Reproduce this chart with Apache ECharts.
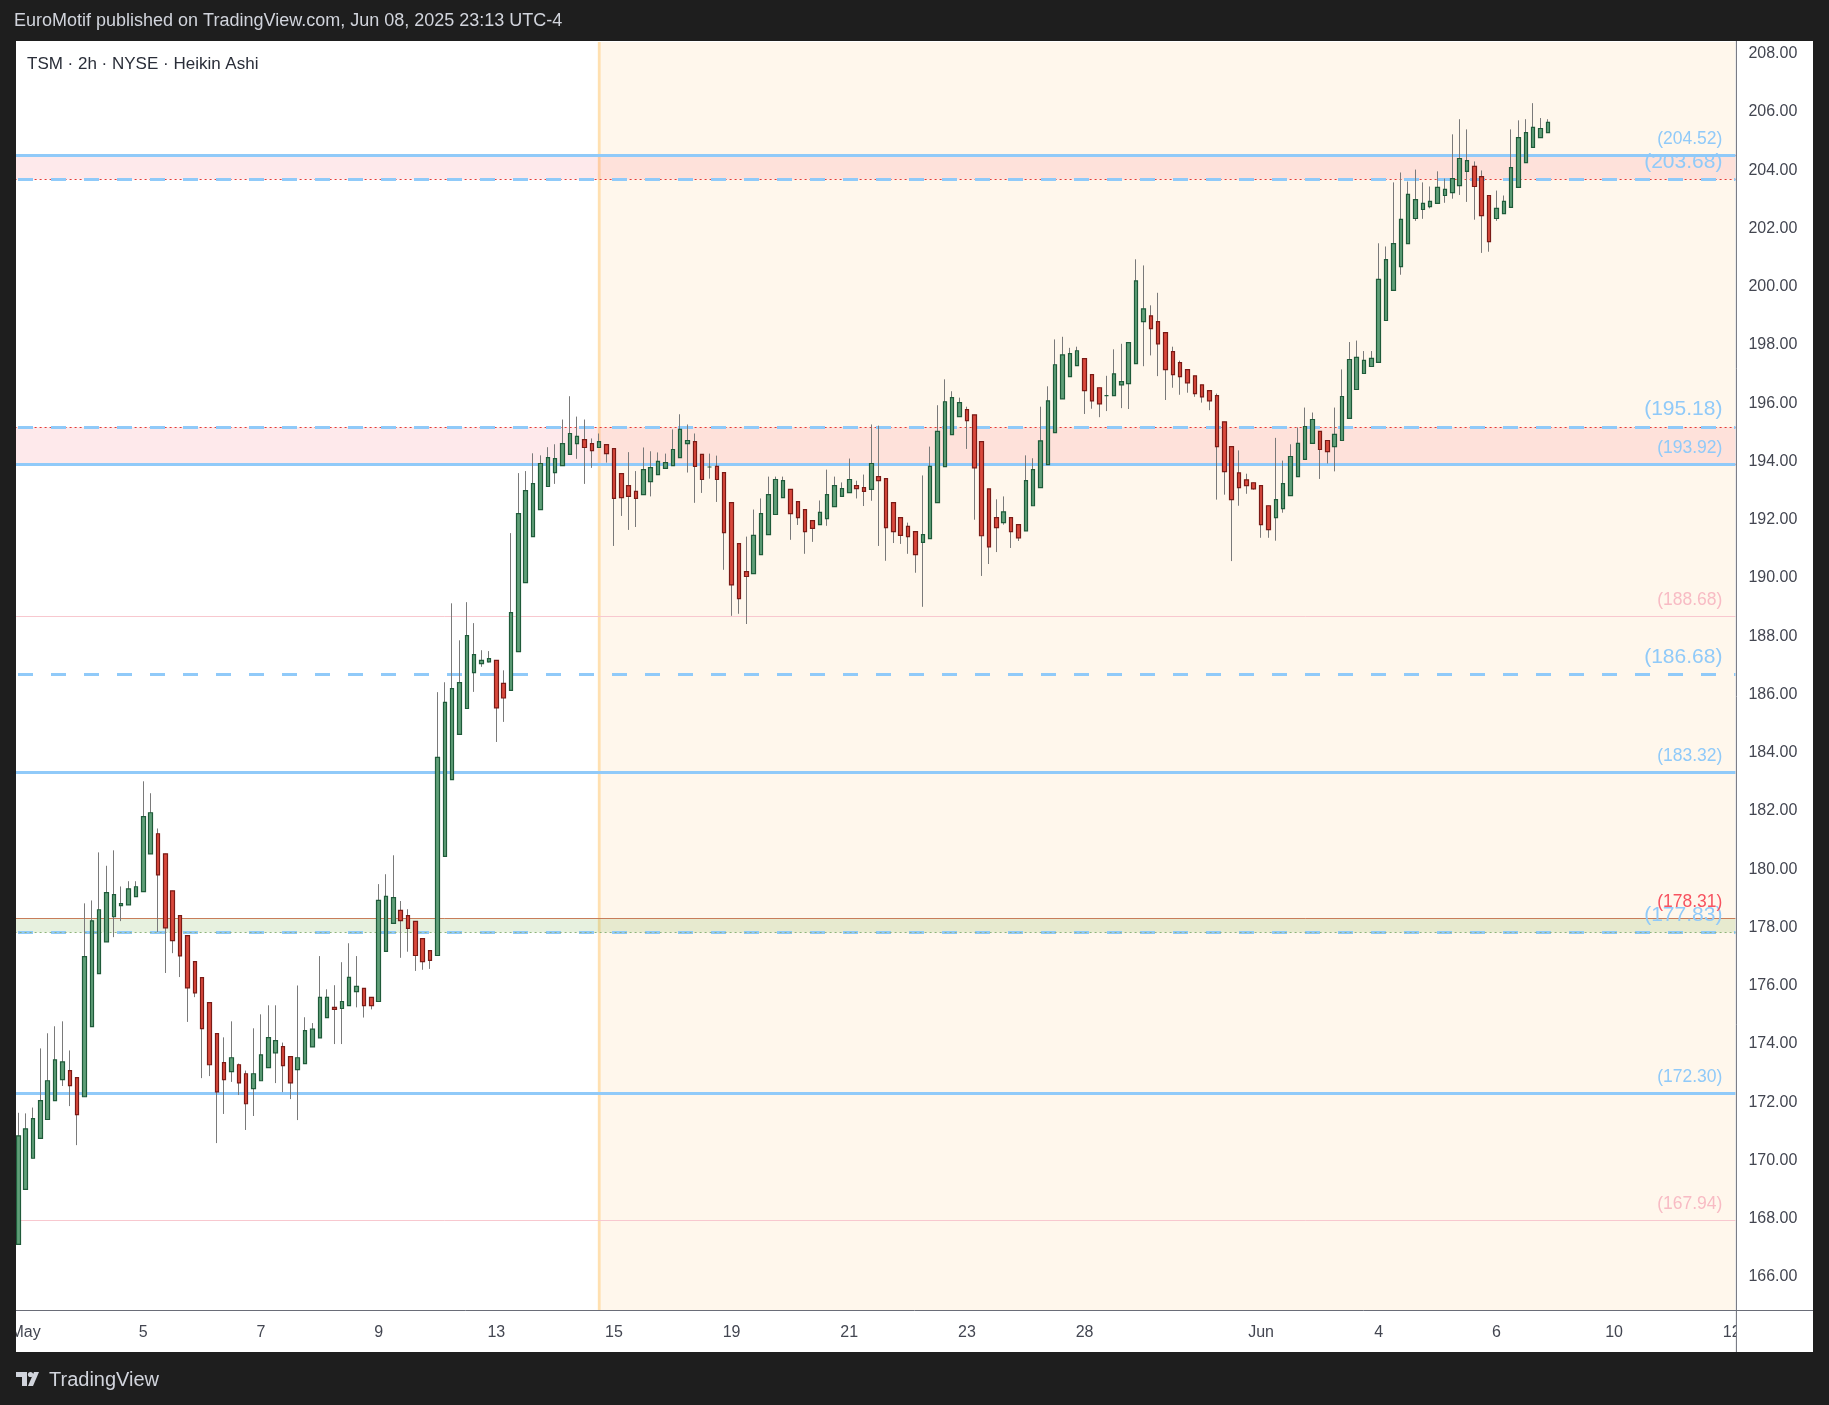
<!DOCTYPE html>
<html>
<head>
<meta charset="utf-8">
<script src="https://cdn.jsdelivr.net/npm/echarts@6/dist/echarts.min.js"></script>
<style>
html,body{margin:0;padding:0;background:#1e1e1e;}
#c{width:1829px;height:1405px;}
</style>
</head>
<body>
<div id="c"></div>
<script>
// ---------- DATA ----------
const hours = ['04:00','06:00','08:00','10:00','12:00','14:00','16:00','18:00'];
const tradingDays = ['2025-05-01','2025-05-02','2025-05-05','2025-05-06','2025-05-07','2025-05-08','2025-05-09',
  '2025-05-12','2025-05-13','2025-05-14','2025-05-15','2025-05-16','2025-05-19','2025-05-20','2025-05-21',
  '2025-05-22','2025-05-23','2025-05-27','2025-05-28','2025-05-29','2025-05-30','2025-06-02','2025-06-03',
  '2025-06-04','2025-06-05','2025-06-06','2025-06-09','2025-06-10','2025-06-11'];
const firstBar = '2025-04-30 18:00';
const lastBar = '2025-06-12 04:00';
const xTickLabels = {'2025-05-01':'May','2025-05-05':'5','2025-05-07':'7','2025-05-09':'9','2025-05-13':'13',
  '2025-05-15':'15','2025-05-19':'19','2025-05-21':'21','2025-05-23':'23','2025-05-28':'28','2025-06-02':'Jun',
  '2025-06-04':'4','2025-06-06':'6','2025-06-10':'10','2025-06-12':'12'};

// Heikin Ashi values (2h bars, extended hours)
const haOpen = [167.12,169.01,170.08,170.76,171.41,172.06,172.78,173.09,172.85,172.19,174.60,176.42,177.51,178.37,178.75,178.78,179.06,179.23,180.53,181.22,
180.53,179.26,178.41,177.72,176.83,176.28,175.42,174.36,173.36,173.05,173.29,172.98,172.47,172.74,173.19,173.70,173.91,173.57,173.12,173.33,
173.90,174.21,174.91,175.26,175.22,175.32,175.80,175.91,175.60,175.46,177.18,178.14,178.59,178.41,178.21,177.62,177.21,177.04,180.44,183.08,
184.63,185.52,186.75,187.06,187.12,187.17,186.38,186.14,187.47,189.84,191.42,192.35,193.14,193.62,193.86,194.24,194.61,194.75,194.61,194.48,
194.58,194.44,193.58,193.17,192.97,192.86,193.31,193.55,193.76,193.86,194.13,194.61,194.68,194.24,193.81,193.83,193.62,192.59,191.18,190.22,
190.15,190.80,191.49,192.18,192.76,193.04,192.62,192.35,191.97,191.83,192.04,192.45,192.80,192.93,193.17,193.10,193.04,193.48,193.41,192.59,
192.07,191.77,191.59,191.22,191.35,192.59,193.82,194.92,195.54,195.78,195.60,194.68,193.06,192.07,191.90,192.07,191.83,191.62,192.48,193.10,
193.89,194.99,196.15,196.91,197.29,197.53,196.98,196.53,196.26,196.26,196.63,196.67,197.36,198.80,199.00,198.80,198.42,197.77,197.39,197.15,
196.94,196.63,196.43,196.26,195.36,194.51,193.61,193.37,193.27,193.17,192.48,192.07,192.38,192.83,193.48,194.07,194.62,195.03,194.72,194.51,
194.72,195.48,196.47,197.02,197.26,197.40,198.84,199.87,200.69,201.48,202.34,202.65,202.75,202.86,203.13,203.23,203.47,203.96,204.13,203.78,
203.13,202.34,202.51,202.72,203.41,204.26,204.78,205.12,205.29];
const haClose = [170.85,171.09,171.44,172.06,172.74,173.46,173.39,172.57,171.58,177.00,178.23,178.61,179.20,179.13,178.82,179.33,179.40,181.81,181.94,179.81,
177.99,177.55,177.03,175.93,175.76,174.53,173.29,172.36,172.78,173.53,172.67,171.95,172.98,173.63,174.22,174.12,173.26,172.67,173.53,174.46,
174.51,175.60,175.60,175.19,175.46,176.29,175.98,175.32,175.32,178.93,179.07,179.03,178.24,177.97,177.04,176.83,176.87,183.84,185.73,186.20,
186.41,188.02,187.37,187.17,187.23,185.54,185.88,188.81,192.21,193.00,193.24,193.93,194.13,194.10,194.61,194.96,194.86,194.48,194.37,194.68,
194.27,192.73,192.76,192.80,192.73,193.72,193.79,194.00,193.96,194.41,195.10,194.72,193.83,193.38,193.81,193.38,191.56,189.76,189.29,190.05,
191.46,192.21,192.86,193.38,193.34,192.21,192.07,191.59,191.70,192.25,192.86,193.17,193.07,193.38,193.07,192.97,193.93,193.34,191.73,191.59,
191.46,191.42,190.80,191.49,193.83,195.03,196.05,196.19,196.02,195.40,193.78,191.45,191.07,191.73,192.27,191.59,191.38,193.34,193.72,194.71,
196.08,197.32,197.66,197.70,197.80,196.43,196.08,195.98,196.26,197.01,196.74,198.08,200.20,199.24,198.56,198.04,197.15,196.98,196.91,196.70,
196.33,196.22,196.08,194.51,193.65,192.69,193.10,193.17,193.06,191.83,191.66,192.69,193.24,194.17,194.62,195.20,195.44,194.41,194.34,194.93,
196.23,197.50,197.57,197.47,197.54,200.25,200.93,201.48,202.31,203.17,202.99,202.86,202.93,203.41,203.34,203.71,204.40,204.33,203.44,202.44,
201.55,202.69,202.93,204.09,205.12,205.29,205.47,205.43,205.64];
const haLow = [167.12,169.01,170.08,170.76,171.41,172.06,172.56,171.87,170.53,172.19,174.60,176.42,177.51,177.67,178.22,178.78,179.06,179.23,180.53,177.85,
176.44,177.12,176.30,174.76,175.61,172.83,172.90,170.60,171.60,172.70,172.25,171.05,171.53,172.74,173.19,172.66,172.35,172.11,171.39,173.33,
173.90,174.21,174.91,174.00,174.00,175.32,175.26,174.91,175.19,175.46,177.18,178.14,176.96,177.17,176.51,176.55,176.58,177.04,180.44,183.08,
184.63,185.52,186.09,186.95,187.10,184.37,185.06,186.14,187.47,189.84,191.42,192.35,193.14,193.23,193.86,194.24,194.09,193.23,193.78,194.48,
193.96,191.10,192.13,191.65,191.75,192.86,192.80,193.55,193.76,193.86,194.13,193.62,192.58,192.92,193.41,192.61,190.28,188.70,188.77,188.42,
190.15,190.80,191.49,192.18,192.76,191.31,191.82,190.83,191.24,191.83,191.79,192.45,192.80,192.93,192.73,192.47,192.65,191.10,190.59,191.20,
191.17,190.83,190.18,189.01,191.35,192.59,193.82,194.92,195.54,194.43,192.00,190.07,190.48,190.89,191.83,191.03,191.27,191.62,192.48,193.10,
193.89,194.99,196.15,196.91,197.29,195.63,195.81,195.52,195.73,196.26,195.83,195.80,197.36,197.27,197.64,196.93,196.11,196.53,196.29,196.36,
196.22,196.02,195.76,192.69,192.86,190.58,192.48,192.89,193.03,191.38,191.38,191.28,192.24,192.83,193.48,194.07,194.62,193.40,193.93,193.66,
194.72,195.48,196.47,197.02,197.26,197.40,198.84,199.87,200.41,201.48,202.26,202.33,202.69,202.86,202.88,203.02,203.15,202.91,202.30,201.16,
201.20,202.26,202.51,202.72,203.41,204.26,204.78,205.12,205.29];
const haHigh = [171.64,171.62,171.82,173.85,174.37,174.61,174.78,173.78,172.85,178.83,178.93,180.58,180.12,180.65,179.41,179.59,179.59,183.02,182.61,181.40,
180.53,179.26,178.41,177.72,176.83,176.28,175.42,174.36,174.23,174.78,173.33,173.09,174.54,175.02,175.33,175.33,174.05,173.57,176.01,174.92,
174.72,177.02,175.88,176.02,176.81,177.46,177.02,175.91,175.60,179.49,179.83,180.48,178.91,178.63,178.21,177.62,177.21,186.08,186.42,189.13,
187.86,189.17,188.45,187.52,187.49,187.17,186.83,191.54,193.60,193.67,194.28,194.21,194.49,194.59,195.44,196.24,195.54,195.44,194.79,194.96,
194.58,194.44,193.58,194.32,193.67,194.48,194.35,194.31,194.27,195.10,195.62,195.27,194.96,194.24,194.27,194.20,193.62,192.59,191.18,191.42,
192.35,192.73,193.48,193.48,193.48,193.04,192.62,192.35,191.97,192.66,193.72,193.48,193.28,194.10,193.34,193.55,195.27,195.23,193.41,192.59,
192.07,191.90,191.59,193.52,194.51,195.93,196.82,196.41,196.19,195.88,195.60,194.68,193.06,192.70,192.80,192.07,191.83,194.21,194.11,195.88,
196.58,198.19,198.28,197.90,197.94,197.53,196.98,196.53,196.94,197.85,198.04,198.08,200.94,200.73,199.36,199.79,198.42,197.94,197.46,197.15,
196.94,196.63,196.43,196.33,195.36,194.51,194.38,193.58,193.27,193.17,192.48,194.81,194.03,194.59,195.17,195.85,195.68,195.03,194.72,195.85,
197.16,198.10,198.15,197.79,197.79,201.49,201.38,203.58,203.92,203.61,204.02,203.58,203.44,203.96,203.71,205.23,205.75,205.40,204.30,203.99,
203.13,203.30,203.13,205.40,205.71,205.75,206.30,205.79,205.75];

// Horizontal levels and zones
const zonePink1 = [204.52, 203.68];
const zonePink2 = [195.18, 193.92];
const zoneGreen = [178.31, 177.83];
const levelSolidBlue = [204.52, 193.92, 183.32, 172.30];
const levelDashedBlue = [203.68, 195.18, 186.68, 177.83];
const levelPink = [188.68, 167.94];
const sessionStartIndex = 79;

const yMin = 164.87, yMax = 208.40;

// ---------- BUILD ----------
const categories = [firstBar];
tradingDays.forEach(d => hours.forEach(h => categories.push(d + ' ' + h)));
categories.push(lastBar);

const wickData = haOpen.map((o, i) => [o, haClose[i], haLow[i], haHigh[i]]);
const bodyData = haOpen.map((o, i) => [o, haClose[i], Math.min(o, haClose[i]), Math.max(o, haClose[i])]);

const BLUE = '#90caf9';
const FONT = 'Liberation Sans';

const markLines = [];
function lbl(text, size, color) {
  return {show: true, position: 'insideEndTop', formatter: text, color: color, fontSize: size,
          fontFamily: FONT, distance: [13, 7]};
}
const fmt = v => '(' + v.toFixed(2) + ')';
// zone borders (dotted red)
[zonePink1, zonePink2].forEach(z => z.forEach(v => markLines.push({yAxis: v,
  lineStyle: {color: '#e53935', width: 1.2, type: [2, 3]}, label: {show: false}})));
// blue dashed
levelDashedBlue.forEach(v => markLines.push({yAxis: v,
  lineStyle: {color: BLUE, width: 3, type: [15, 18], dashOffset: 29.6},
  label: lbl(fmt(v), 21, BLUE)}));
// blue solid
levelSolidBlue.forEach(v => markLines.push({yAxis: v,
  lineStyle: {color: BLUE, width: 3, type: 'solid'},
  label: lbl(fmt(v), 17.5, BLUE)}));
// pink thin
levelPink.forEach(v => markLines.push({yAxis: v,
  lineStyle: {color: '#f8c8cf', width: 1, type: 'solid'},
  label: lbl(fmt(v), 17.5, '#f8bbc4')}));
// green zone borders
markLines.push({yAxis: zoneGreen[0], lineStyle: {color: '#c87d5a', width: 1, type: 'solid'},
  label: lbl(fmt(zoneGreen[0]), 17.5, '#f7525f')});
markLines.push({yAxis: zoneGreen[1], lineStyle: {color: '#8fb47a', width: 1.2, type: [2, 3]}, label: {show: false}});

const markAreas = [
  [{yAxis: zonePink1[0], itemStyle: {color: 'rgba(242,54,69,0.11)'}}, {yAxis: zonePink1[1]}],
  [{yAxis: zonePink2[0], itemStyle: {color: 'rgba(242,54,69,0.11)'}}, {yAxis: zonePink2[1]}],
  [{yAxis: zoneGreen[0], itemStyle: {color: 'rgba(120,180,80,0.18)'}}, {yAxis: zoneGreen[1]}]
];

const chart = echarts.init(document.getElementById('c'), null, {renderer: 'canvas'});
const GRID = {left: 14.6, top: 42, width: 1720.8, height: 1268};

chart.setOption({
  animation: false,
  backgroundColor: '#ffffff',
  grid: GRID,
  xAxis: {
    type: 'category', data: categories, boundaryGap: true,
    axisLine: {show: false}, axisTick: {show: false}, splitLine: {show: false},
    axisLabel: {
      interval: 0, margin: 15, color: '#434651', fontSize: 16, fontFamily: FONT,
      formatter: v => {
        const [d, h] = v.split(' ');
        return (h === '04:00' && xTickLabels[d]) ? xTickLabels[d] : '';
      }
    }
  },
  yAxis: {
    type: 'value', position: 'right', min: yMin, max: yMax, scale: true,
    splitNumber: 22, minInterval: 2, maxInterval: 2,
    axisLine: {show: false}, axisTick: {show: false}, splitLine: {show: false},
    axisLabel: {showMinLabel: false, showMaxLabel: false, margin: 13, color: '#434651',
      fontSize: 16, fontFamily: FONT, padding: [4, 0, 0, 0], formatter: v => v.toFixed(2)}
  },
  series: [
    {
      name: 'levels', type: 'line', data: [], z: 1,
      markArea: {silent: true, z: 1, data: markAreas},
      markLine: {silent: true, symbol: ['none', 'none'], z: 1, data: markLines},
    },
    {
      name: 'wick', type: 'candlestick', data: wickData, barWidth: 1, z: 3,
      itemStyle: {color: '#7a7a7a', color0: '#7a7a7a', borderColor: '#7a7a7a', borderColor0: '#7a7a7a', borderWidth: 1}
    },
    {
      name: 'body', type: 'candlestick', data: bodyData, barWidth: 4, z: 4,
      itemStyle: {color: '#5f9f78', color0: '#d9493c', borderColor: '#1f5b3a', borderColor0: '#7a1b16', borderWidth: 1.2}
    }
  ]
});

// background graphics (need pixel of session start from the axis scale)
const xs = chart.convertToPixel({xAxisIndex: 0}, sessionStartIndex);
const gR = GRID.left + GRID.width;
const gB = GRID.top + GRID.height;
const DARK = '#1e1e1e';
chart.setOption({
  graphic: [
    {type: 'rect', z: -10, shape: {x: xs, y: GRID.top, width: gR - xs, height: GRID.height}, style: {fill: '#fff7ec'}},
    {type: 'rect', z: -9, shape: {x: xs - 1.4, y: GRID.top, width: 2.8, height: GRID.height}, style: {fill: '#ffe0b0'}},
    {type: 'rect', z: 50, shape: {x: gR + 1, y: gB + 1, width: 1813 - gR - 1, height: 1352 - gB - 1}, style: {fill: '#ffffff'}},
    {type: 'line', z: 60, shape: {x1: 16, y1: gB + 0.5, x2: 1813, y2: gB + 0.5}, style: {stroke: '#6a6d78', lineWidth: 1}},
    {type: 'line', z: 60, shape: {x1: gR + 1, y1: 41, x2: gR + 1, y2: 1352}, style: {stroke: '#6a6d78', lineWidth: 1}},
    {type: 'rect', z: 100, shape: {x: 0, y: 0, width: 1829, height: 41}, style: {fill: DARK}},
    {type: 'rect', z: 100, shape: {x: 0, y: 1352, width: 1829, height: 53}, style: {fill: DARK}},
    {type: 'rect', z: 100, shape: {x: 0, y: 0, width: 16, height: 1405}, style: {fill: DARK}},
    {type: 'rect', z: 100, shape: {x: 1813, y: 0, width: 16, height: 1405}, style: {fill: DARK}},
    {type: 'text', z: 110, x: 14, y: 21, style: {text: 'EuroMotif published on TradingView.com, Jun 08, 2025 23:13 UTC-4',
      fill: '#d1d4dc', font: '18px "Liberation Sans"', textVerticalAlign: 'middle'}},
    {type: 'text', z: 110, x: 27, y: 64, style: {text: 'TSM · 2h · NYSE · Heikin Ashi',
      fill: '#2a2e39', font: '17px "Liberation Sans"', textVerticalAlign: 'middle'}},
    {type: 'polygon', z: 110, shape: {points: [[16,1372],[27,1372],[27,1386],[22,1386],[22,1377],[16,1377]]}, style: {fill: '#d1d4dc'}},
    {type: 'circle', z: 110, shape: {cx: 30.5, cy: 1374.5, r: 2.6}, style: {fill: '#d1d4dc'}},
    {type: 'polygon', z: 110, shape: {points: [[34,1372],[39,1372],[33,1386],[28,1386]]}, style: {fill: '#d1d4dc'}},
    {type: 'text', z: 110, x: 49, y: 1380, style: {text: 'TradingView', fill: '#d1d4dc',
      font: '20px "Liberation Sans"', textVerticalAlign: 'middle'}}
  ]
});
</script>
</body>
</html>
